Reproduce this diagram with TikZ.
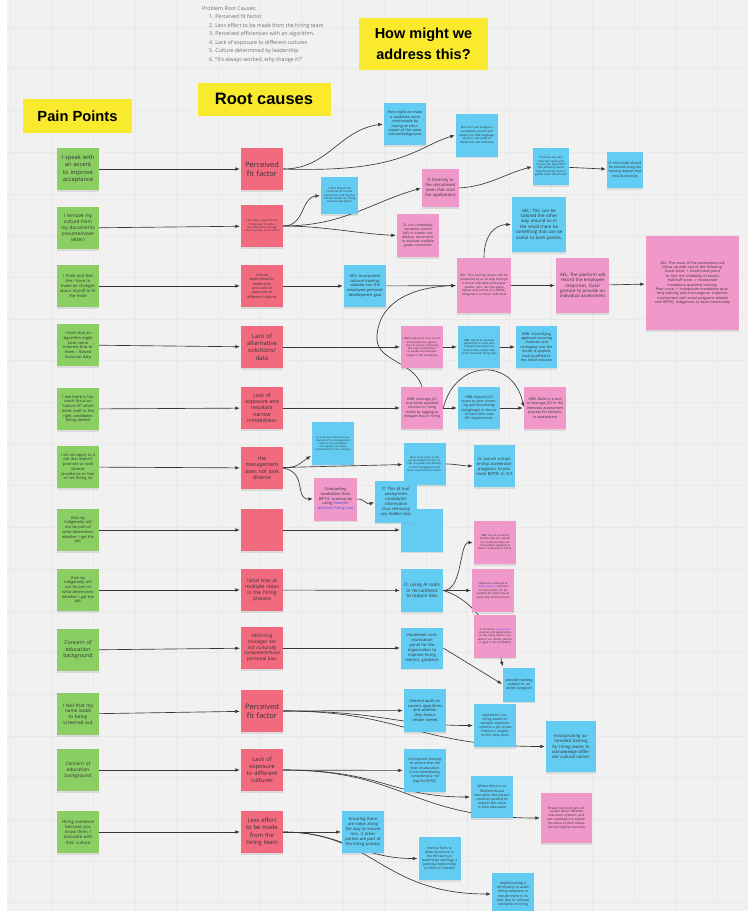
\documentclass[tikz,border=0pt]{standalone}
\usepackage{fontspec}
\setmainfont{Open Sans}
\newfontfamily\headfont{Liberation Sans}
\usetikzlibrary{arrows.meta,backgrounds,shadows}
\definecolor{canvas}{RGB}{241,241,241}
\definecolor{gridc}{RGB}{233,233,233}
\definecolor{sticky}{RGB}{250,234,45}
\definecolor{painc}{RGB}{138,206,100}
\definecolor{causec}{RGB}{241,106,126}
\definecolor{ideab}{RGB}{98,204,242}
\definecolor{ideap}{RGB}{241,152,202}
\definecolor{inkc}{RGB}{50,50,50}
\definecolor{listc}{RGB}{110,110,110}
\definecolor{linkc}{RGB}{55,55,55}
\definecolor{urlc}{RGB}{80,80,225}

\tikzset{
  fs/.style={font=\fontsize{#1}{\fpeval{1.22*#1}}\selectfont},
  note/.style={minimum width=42,minimum height=42,inner sep=1pt,align=center,
    text width=37,text=inkc,
    drop shadow={shadow xshift=0pt,shadow yshift=-1.6pt,opacity=.2}},
  pain/.style={note,fill=painc,text width=39},
  cause/.style={note,fill=causec,text width=39},
  idea/.style={note,fill=ideab},
  ideapk/.style={note,fill=ideap},
  head/.style={fill=sticky,inner sep=0pt,align=center},
  link/.style={draw=linkc,line width=.65pt,shorten >=1pt,-{Latex[length=4.5pt,width=3.6pt]}},
}

\begin{document}
\begin{tikzpicture}[x=1pt,y=-1pt]
\useasboundingbox (0,0) rectangle (748,911);

% headings
\node[anchor=north west,align=left,text=listc,inner sep=0pt,
      font=\fontsize{5.3}{8.5}\selectfont] (causelist) at (202,6)
  {Problem Root Causes:\\
   \hspace*{7pt}1. Perceived fit factor\\
   \hspace*{7pt}2. Less effort to be made from the hiring team\\
   \hspace*{7pt}3. Perceived efficiencies with an algorithm.\\
   \hspace*{7pt}4. Lack of exposure to different cultures\\
   \hspace*{7pt}5. Culture determined by leadership\\
   \hspace*{7pt}6. ``It's always worked, why change it?''};
\node[head,minimum width=129,minimum height=52,font=\headfont\bfseries\fontsize{14.5}{21}\selectfont] (thmw) at (423.5,44) {How might we\\address this?};
\node[head,minimum width=109,minimum height=34,font=\headfont\bfseries\fontsize{14.7}{17}\selectfont] (tpain) at (77.5,116) {Pain Points};
\node[head,minimum width=133,minimum height=33,font=\headfont\bfseries\fontsize{16.5}{19}\selectfont] (troot) at (264,99) {Root causes};

% pain points
\node[pain,fs=5.8] (pt1) at (78,169) {I speak with\\ an accent\\ to improve\\ acceptance};
\node[pain,fs=4.8] (pt2) at (78,228) {I remove my\\ culture from\\ my documents\\ (resume/cover\\ letter)};
\node[pain,fs=4.1] (pt3) at (78,286) {I think and feel\\ like I have to\\ make an changes\\ about myself to fit\\ the mold};
\node[pain,fs=3.9] (pt4) at (78,345) {I think that an\\ algorithm might\\ have some\\ inherent bias to\\ them -- flawed\\ historical data};
\node[pain,fs=3.9] (pt5) at (78,409) {I see there is too\\ much focus on\\ ``culture fit'' which\\ lends itself to the\\ right candidates\\ being denied};
\node[pain,fs=3.9] (pt6) at (78,467) {I do not apply to a\\ job that doesn't\\ promote or look\\ diverse\\ (avoidance or fear\\ of not fitting in)};
\node[pain,fs=3.9] (pt7) at (78,530) {that my\\ indigeneity will\\ not be part of\\ what determines\\ whether I get the\\ job};
\node[pain,fs=3.9] (pt8) at (78,590) {that my\\ indigeneity will\\ not be part of\\ what determines\\ whether I get the\\ job};
\node[pain,fs=5.3] (pt9) at (78,650) {Concern of\\ education\\ background};
\node[pain,fs=4.8] (pt10) at (78,714) {I feel that my\\ name leads\\ to being\\ screened out};
\node[pain,fs=4.8] (pt11) at (78,770) {Concern of\\ education\\ background};
\node[pain,fs=4.3] (pt12) at (78,832) {Hiring someone\\ because you\\ know them /\\ associate with\\ their culture};

% root causes
\node[cause,fs=7.5] (rc1) at (262,169) {Perceived\\ fit factor};
\node[cause,fs=2.6] (rc2) at (262,226) {Less effort required from hiring team to gather the information through schools grades, work culture};
\node[cause,fs=3.6] (rc3) at (262,286) {Culture\\ determined by\\ leadership\\ and Lack of\\ exposure to\\ different cultures};
\node[cause,fs=6] (rc4) at (262,347) {Lack of\\ alternative\\ solutions/\\ data};
\node[cause,fs=5.2] (rc5) at (262,408) {Lack of\\ exposure and\\ resultant\\ narrow\\ mindedness};
\node[cause,fs=5.3] (rc6) at (262,468) {the\\ management\\ does not look\\ diverse};
\node[cause] (rc7) at (262,530) {};
\node[cause,fs=5.1] (rc8) at (262,590) {racial bias at\\ multiple steps\\ in the hiring\\ process};
\node[cause,fs=4.7] (rc9) at (262,648) {HR/hiring\\ manager are\\ not culturally\\ competent/have\\ personal bias};
\node[cause,fs=7.5] (rc10) at (262,711) {Perceived\\ fit factor};
\node[cause,fs=5.8] (rc11) at (262,770) {Lack of\\ exposure\\ to different\\ cultures};
\node[cause,fs=5.8] (rc12) at (262,832) {Less effort\\ to be made\\ from the\\ hiring team};

% how might we
\node[idea,fs=3.6] (hb1) at (405,124) {How might we make a candidate more comfortable by having an interviewer of the same culture/background};
\node[idea,minimum height=43,fs=3] (hb2) at (477,135) {Our tool can analyse a candidate's accent and speech so that language alone is not used to determine the outcome};
\node[idea,minimum width=37,minimum height=37,text width=33,fs=2.7] (hb3) at (339.5,195.5) {I don't know if we could use AI to read documents and flag the cultural details the hiring team should ignore};
\node[ideapk,minimum width=37,minimum height=38,text width=34,fs=4.1] (hp1) at (440.5,188) {D Diversity in the recruitment team that start the applications};
\node[ideapk,minimum height=43,fs=3.4] (hp2) at (418,235.5) {D: Use completely computer system (AI?) to screen candidates' documents to evaluate credible grade conversion};
\node[idea,minimum width=36,minimum height=37,text width=32,fs=2.7] (hb4) at (551,166.5) {Could we use data from past applicants to train the algorithm? This efficiency would help the hiring team to gather more information};
\node[idea,minimum width=36,minimum height=36,text width=33,fs=3.4] (hb5) at (625,170) {G: the model should be trained using the training dataset that include diversity};
\node[idea,minimum width=54,minimum height=55,text width=49,fs=4.4] (hb6) at (539,224.5) {AEL: This can be tailored the other way around as in the small there be something that can be useful to both parties.};
\node[idea,fs=3.9] (hb7) at (365,286) {AEL: Incorporate cultural training, validate into the employee personal development goal};
\node[ideapk,minimum width=54,minimum height=55,text width=49,fs=3.1] (hp3) at (484,285.5) {AEL: This training session will be presented by an AI step through a virtual individual and avatar speaks, acts, has the same values and norms of a BIPOC, Indigenous or Asian individual};
\node[ideapk,minimum width=53,minimum height=55,text width=46,fs=4.4] (hp4) at (582.5,285.5) {AEL: The platform will record the employee responses, facial gesture to provide an individual assessment};
\node[ideapk,minimum width=93,minimum height=94,text width=84,fs=3.6] (hp5) at (692.5,283) {AEL: The result of the assessment will follow up with one of the following:\\ Good score -> Good (cash) point to `test' the credibility of results\\ Half/half score -> Incorporate mandatory quarterly training.\\ Poor score -> Incorporate mandatory quarterly training and encourage an in-person involvement with social programs related with BIPOC, Indigenous or Asian community};
\node[ideapk,fs=2.7] (hp6) at (422,347) {HBB: Implement AI to screen and anonymise applications at source, removing the cultural identifiers to enable an unbiased review of the candidates};
\node[idea,fs=2.7] (hb8) at (479,347) {HBB: Use AI to evaluate applicants on skills and competencies based on verified data, rather than on the historical hiring data};
\node[idea,minimum width=41,fs=3.6] (hb9) at (536.5,347) {HBB: Diversifying applicant sourcing channels and reshaping how the model is applied, hard qualified to the active solution};
\node[ideapk,fs=3.5] (hp7) at (422,408) {HBB: Leverage JCS to provide qualified solution to hiring teams by tagging to mitigate bias in hiring};
\node[idea,fs=3.5] (hb10) at (479,408) {HBB: Expand JCS scope to post screening and shortlisting (weightage) in favour of hard skills and EE requirements};
\node[ideapk,fs=3.6] (hp8) at (545,408) {HBB: Build in a tool to leverage JCS in the interview assessment process for fairness in assessment};
\node[idea,minimum height=43,fs=2.5] (hb11) at (333,443.5) {G: An AI tool that shows the diversity of the management team to the candidates and explains the hiring commitments of the company};
\node[idea,fs=2.6] (hb12) at (424.5,464) {Ideas to be given to the whole leadership team so that it includes the diversity in their management and hires more inclusive leaders};
\node[idea,minimum width=41,fs=4.1] (hb13) at (494.5,466) {G: launch a leadership accelerator programs to promote BIPOC in SLT};
\node[ideapk,minimum width=43,minimum height=43,fs=3.9] (hp9) at (335.5,499) {Onboarding candidates from BIPOC community using \textcolor{urlc}{Indeed's diversity hiring tool}};
\node[idea,minimum height=43,fs=4.1] (hb15) at (422,530) {};
\node[idea,fs=4.1] (hb14) at (396,501.5) {C: This AI tool anonymises candidate's information thus removing any hidden bias};
\node[ideapk,minimum height=43,fs=2.7] (hp10) at (495,542.5) {HBB: Use AI screening models that are trained on a balanced data set and audited regularly to detect racial bias in hiring};
\node[idea,minimum height=43,fs=4.6] (hb16) at (422,590.5) {D: using AI tools in recruitment to reduce bias};
\node[ideapk,minimum height=43,fs=2.8] (hp11) at (493,590.5) {Follow the example of \textcolor{urlc}{responsible AI} and use AI tools which can be audited for racial bias at every step of the process};
\node[ideapk,minimum height=43,fs=2.7] (hp12) at (495,636) {D: AI tool to \textcolor{urlc}{anonymise} resumes and applications so the hiring team is not able to see names, photos or ages of the candidates};
\node[idea,minimum height=41,fs=4] (hb17) at (422,648) {Implement communication panel for the organisation to improve hiring metrics, guidance};
\node[idea,minimum width=32,minimum height=34,text width=29,fs=3.6] (hb18) at (519,684.5) {provide training subject to an action program};
\node[idea,minimum height=43,fs=3.9] (hb19) at (425,710.5) {Internal audit on current algorithms and whether they favour certain names};
\node[idea,minimum height=43,fs=3.3] (hb20) at (495,725.5) {Implement clustering based on whether someone commits a job to see if there is insights on this data point};
\node[idea,minimum width=50,minimum height=51,text width=46,fs=4.2] (hb21) at (571,746.5) {Incorporating automated training for hiring teams to acknowledge different cultural names};
\node[idea,minimum height=43,fs=3.5] (hb22) at (425,770.5) {Incorporate training to ensure that the level of education is not immediately considered a red flag for BIPOC};
\node[idea,fs=3.4] (hb23) at (492,797) {Where there is no Western-based education, the person could be pushed to explain the value in their education};
\node[ideapk,minimum width=51,minimum height=50,text width=46,fs=3.2] (hp13) at (566.5,818) {Ensure recruiters are educated about different education systems, and ask candidates to explain the value of their education during the interview};
\node[idea,fs=4.1] (hb24) at (363,832) {Ensuring there are steps along the way to ensure min. 2 other parties are part of the hiring process};
\node[idea,minimum height=43,fs=3.3] (hb25) at (439.5,858.5) {Internal form to allow disclosure to the HR team (or leadership) and flags a potential relationship (conflict of interest)};
\node[idea,fs=3.5] (hb26) at (513,894) {Implementing a third party to audit hiring solutions to ensure there is no bias due to cultural similarity in hiring};

\begin{scope}[on background layer]
  \fill[canvas] (0,0) rectangle (748,911);
  \fill[white] (0,0) rectangle (7,911);
  \foreach \k in {0,...,17} \draw[gridc,line width=.5pt] ({10+41.6*\k},0) -- ++(0,911);
  \foreach \k in {0,...,21} \draw[gridc,line width=.5pt] (7,{27+41.7*\k}) -- ++(741,0);

  % pain point -> root cause
  \foreach \i in {1,...,12} \draw[link] (pt\i) -- (rc\i);

  % row 1
  \draw[link] (rc1.east) .. controls +(45,0) and +(-45,6) .. (hb1.west);
  \draw[link] (rc1.east) .. controls +(120,4) and +(-40,12) .. (hb2.west);
  % row 2
  \draw[link] (rc2.east) .. controls +(22,0) and +(-20,2) .. (hb3.west);
  \draw[link] (rc2.east) .. controls +(60,0) and +(-50,14) .. (hp1.west);
  \draw[link] (rc2.east) .. controls +(40,0) and +(-40,-2) .. (hp2.west);
  \draw[link] (hp1.east) .. controls +(30,-2) and +(-30,8) .. (hb4.west);
  \draw[link] (hb4) -- (hb5);
  % row 3
  \draw[link] (rc3) -- (hb7);
  \draw[link] (hb7) -- (hp3);
  \draw[link] (hp3.north) .. controls +(0,-25) and +(-15,0) .. (hb6.west);
  \draw[link] (hp3) -- (hp4);
  \draw[link] (hp4) -- (hp5);
  \draw[link] (hp7.north) .. controls (414,360) and (374,362) .. (377,335)
                          .. controls (380,300) and (415,287) .. (hp3.west);
  % row 4
  \draw[link] (rc4) -- (hp6);
  \draw[link] (hp6) -- (hb8);
  \draw[link] (hb8) -- (hb9);
  % row 5
  \draw[link] (rc5) -- (hp7);
  \draw[link] (hp7) -- (hb10);
  \draw[link] (hb10) -- (hp8);
  \draw[link] (hp7.east) .. controls (456,358) and (514,358) .. (hp8.west);
  % row 6
  \draw[link] (rc6.east) .. controls +(15,0) and +(-10,6) .. ([yshift=-12pt]hb11.west);
  \draw[link] (rc6) -- (hb12);
  \draw[link] (rc6.east) .. controls +(25,5) and +(-20,0) .. (hp9.west);
  \draw[link] (hp9.east) .. controls +(8,0) and +(-8,4) .. (hb14.west);
  \draw[link] (hb12.east) .. controls +(12,0) and +(-12,0) .. (hb13.west);
  % row 7
  \draw[link] (rc7) -- (hb15);
  % row 8
  \draw[link] (rc8) -- (hb16);
  \draw[link] (hb16.east) .. controls +(20,0) and +(-15,0) .. (hp10.west);
  \draw[link] (hb16) -- (hp11);
  \draw[link] (hb16.east) .. controls +(35,10) and +(-5,-25) .. (hb18.north west);
  % row 9
  \draw[link] (rc9) -- (hb17);
  \draw[link] (hb17.east) -- (hb18.west);
  % row 10
  \draw[link] (rc10) -- (hb19);
  \draw[link] (rc10.east) .. controls +(100,0) and +(-80,0) .. (hb20.west);
  \draw[link] (rc10.east) .. controls +(120,0) and +(-130,0) .. (hb21.west);
  % row 11
  \draw[link] (rc11) -- (hb22);
  \draw[link] (rc11.east) .. controls +(100,0) and +(-80,0) .. (hb23.west);
  \draw[link] (rc11.east) .. controls +(120,0) and +(-130,0) .. (hp13.west);
  % row 12
  \draw[link] (rc12) -- (hb24);
  \draw[link] (rc12.east) .. controls +(60,0) and +(-60,0) .. (hb25.west);
  \draw[link] (rc12.east) .. controls +(90,0) and +(-110,0) .. (hb26.west);
\end{scope}
\end{tikzpicture}
\end{document}
